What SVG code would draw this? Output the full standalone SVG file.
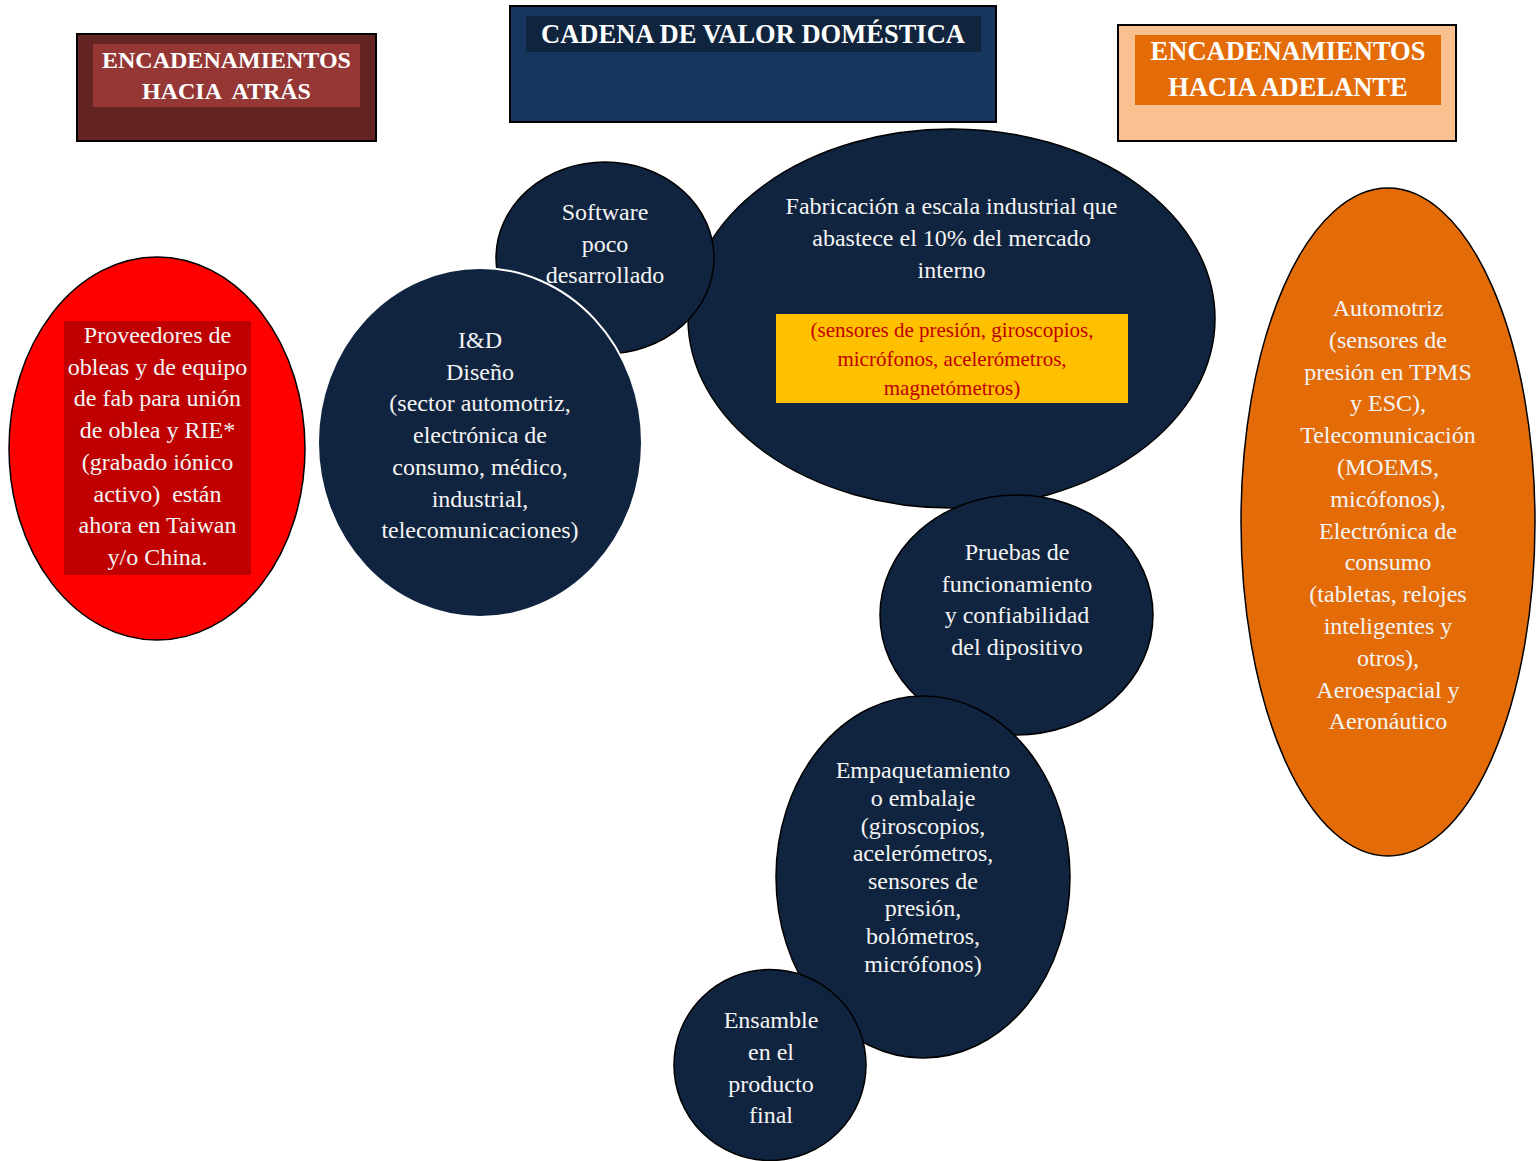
<svg xmlns="http://www.w3.org/2000/svg" width="1538" height="1161" viewBox="0 0 1538 1161">
  <style>
    text { font-family: "Liberation Serif", "Times New Roman", serif; text-anchor: middle; }
    .hdr { font-weight: bold; fill: #ffffff; }
    .lbl { font-size: 24px; fill: #f4f4f4; }
    .node { fill: #10243f; stroke: #000000; stroke-width: 1.5; }
    .pre { white-space: pre; }
  </style>

  <rect width="1538" height="1161" fill="#ffffff"/>

  <!-- header: backward linkages -->
  <g id="hdr-atras">
    <rect x="77" y="34" width="299" height="107" fill="#632423" stroke="#000" stroke-width="2"/>
    <rect x="93" y="44" width="267" height="63" fill="#953735"/>
    <text class="hdr" x="226.5" y="67.5" font-size="24">ENCADENAMIENTOS</text>
    <text class="hdr pre" x="226.5" y="98.5" font-size="24">HACIA  ATRÁS</text>
  </g>

  <!-- header: domestic value chain -->
  <g id="hdr-cadena">
    <rect x="510" y="6" width="486" height="116" fill="#17365d" stroke="#000" stroke-width="2"/>
    <rect x="526" y="16" width="455" height="36" fill="#10243e"/>
    <text class="hdr" x="753" y="42.5" font-size="26.5">CADENA DE VALOR DOMÉSTICA</text>
  </g>

  <!-- header: forward linkages -->
  <g id="hdr-adelante">
    <rect x="1118" y="25" width="338" height="116" fill="#fac090" stroke="#000" stroke-width="2"/>
    <rect x="1135" y="35" width="306" height="70" fill="#e36c09"/>
    <text class="hdr" x="1288" y="59.5" font-size="26.5">ENCADENAMIENTOS</text>
    <text class="hdr" x="1288" y="95.5" font-size="26.5">HACIA ADELANTE</text>
  </g>

  <!-- suppliers -->
  <g id="proveedores">
    <ellipse cx="157" cy="448.5" rx="148" ry="191.5" fill="#ff0000" stroke="#000" stroke-width="1.5"/>
    <rect x="64" y="321" width="187" height="254" fill="#c00000"/>
    <text class="lbl" x="157.5" y="343">Proveedores de</text>
    <text class="lbl" x="157.5" y="374.7">obleas y de equipo</text>
    <text class="lbl" x="157.5" y="406.4">de fab para unión</text>
    <text class="lbl" x="157.5" y="438.1">de oblea y RIE*</text>
    <text class="lbl" x="157.5" y="469.8">(grabado iónico</text>
    <text class="lbl pre" x="157.5" y="501.5">activo)  están</text>
    <text class="lbl" x="157.5" y="533.2">ahora en Taiwan</text>
    <text class="lbl" x="157.5" y="564.9">y/o China.</text>
  </g>

  <!-- industrial manufacturing -->
  <g id="fabricacion">
    <ellipse class="node" cx="951.5" cy="318.5" rx="263.5" ry="189.5"/>
    <text class="lbl" x="951.5" y="214.3">Fabricación a escala industrial que</text>
    <text class="lbl" x="951.5" y="246">abastece el 10% del mercado</text>
    <text class="lbl" x="951.5" y="277.7">interno</text>
    <rect x="776" y="314" width="352" height="89" fill="#ffc000"/>
    <text x="952" y="337" font-size="21" fill="#c00000">(sensores de presión, giroscopios,</text>
    <text x="952" y="366" font-size="21" fill="#c00000">micrófonos, acelerómetros,</text>
    <text x="952" y="395" font-size="21" fill="#c00000">magnetómetros)</text>
  </g>

  <!-- software -->
  <g id="software">
    <ellipse class="node" cx="605" cy="258" rx="109" ry="96"/>
  </g>

  <!-- R&D / design -->
  <g id="id-diseno">
    <ellipse cx="480" cy="442.5" rx="162" ry="174.5" fill="#10243f" stroke="#ffffff" stroke-width="2"/>
    <text class="lbl" x="480" y="348">I&amp;D</text>
    <text class="lbl" x="480" y="379.7">Diseño</text>
    <text class="lbl" x="480" y="411.4">(sector automotriz,</text>
    <text class="lbl" x="480" y="443.1">electrónica de</text>
    <text class="lbl" x="480" y="474.8">consumo, médico,</text>
    <text class="lbl" x="480" y="506.5">industrial,</text>
    <text class="lbl" x="480" y="538.2">telecomunicaciones)</text>
  </g>

  <g id="software-label">
    <text class="lbl" x="605" y="220">Software</text>
    <text class="lbl" x="605" y="251.7">poco</text>
    <text class="lbl" x="605" y="283.2">desarrollado</text>
  </g>

  <!-- testing -->
  <g id="pruebas">
    <ellipse class="node" cx="1016.5" cy="615" rx="136.5" ry="120"/>
    <text class="lbl" x="1017" y="560">Pruebas de</text>
    <text class="lbl" x="1017" y="591.7">funcionamiento</text>
    <text class="lbl" x="1017" y="623.4">y confiabilidad</text>
    <text class="lbl" x="1017" y="655.1">del dipositivo</text>
  </g>

  <!-- packaging -->
  <g id="empaquetamiento">
    <ellipse class="node" cx="923" cy="877" rx="147" ry="181"/>
    <text class="lbl" x="923" y="778.3" font-size="22">Empaquetamiento</text>
    <text class="lbl" x="923" y="806" font-size="22">o embalaje</text>
    <text class="lbl" x="923" y="833.6" font-size="22">(giroscopios,</text>
    <text class="lbl" x="923" y="861.2" font-size="22">acelerómetros,</text>
    <text class="lbl" x="923" y="888.8" font-size="22">sensores de</text>
    <text class="lbl" x="923" y="916.4" font-size="22">presión,</text>
    <text class="lbl" x="923" y="944" font-size="22">bolómetros,</text>
    <text class="lbl" x="923" y="971.6" font-size="22">micrófonos)</text>
  </g>

  <!-- final assembly -->
  <g id="ensamble">
    <ellipse class="node" cx="770" cy="1065" rx="96" ry="95.5"/>
    <text class="lbl" x="771" y="1028.3">Ensamble</text>
    <text class="lbl" x="771" y="1060">en el</text>
    <text class="lbl" x="771" y="1091.7">producto</text>
    <text class="lbl" x="771" y="1123.4">final</text>
  </g>

  <!-- downstream markets -->
  <g id="mercados">
    <ellipse cx="1388" cy="522" rx="147" ry="334" fill="#e36c09" stroke="#000" stroke-width="1.5"/>
    <text class="lbl" x="1388" y="316">Automotriz</text>
    <text class="lbl" x="1388" y="347.8">(sensores de</text>
    <text class="lbl" x="1388" y="379.6">presión en TPMS</text>
    <text class="lbl" x="1388" y="411.4">y ESC),</text>
    <text class="lbl" x="1388" y="443.2">Telecomunicación</text>
    <text class="lbl" x="1388" y="475">(MOEMS,</text>
    <text class="lbl" x="1388" y="506.8">micófonos),</text>
    <text class="lbl" x="1388" y="538.6">Electrónica de</text>
    <text class="lbl" x="1388" y="570.4">consumo</text>
    <text class="lbl" x="1388" y="602.2">(tabletas, relojes</text>
    <text class="lbl" x="1388" y="634">inteligentes y</text>
    <text class="lbl" x="1388" y="665.8">otros),</text>
    <text class="lbl" x="1388" y="697.6">Aeroespacial y</text>
    <text class="lbl" x="1388" y="729.4">Aeronáutico</text>
  </g>

  <!-- no connectors in this chart -->
  <g id="connectors"/>
</svg>
